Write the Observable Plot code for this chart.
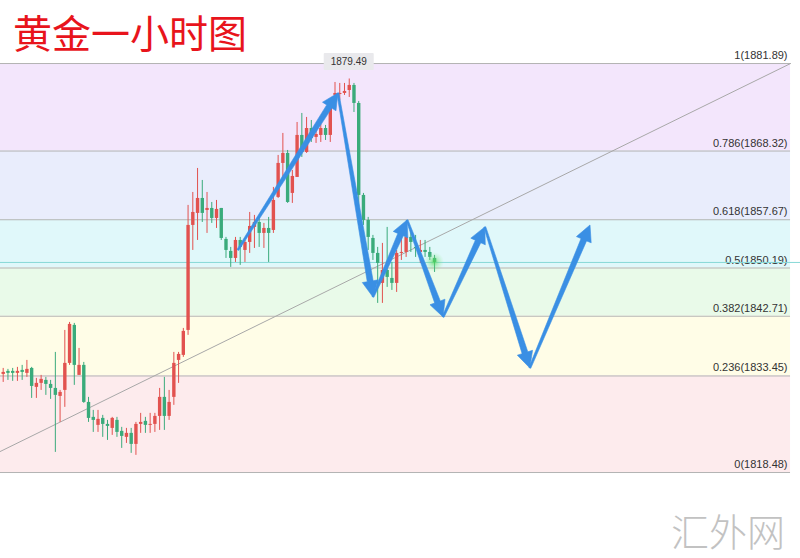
<!DOCTYPE html>
<html><head><meta charset="utf-8">
<script src="https://cdn.jsdelivr.net/npm/d3@7"></script>
<script src="https://cdn.jsdelivr.net/npm/@observablehq/plot@0.6"></script>
<style>
html,body{margin:0;padding:0;background:#fff;}
#wrap{position:relative;width:800px;height:558px;overflow:hidden;}
#chart{position:absolute;left:0;top:0;}
#title{position:absolute;left:13px;top:12px;font-family:"Noto Sans CJK SC";font-size:39px;line-height:39px;color:#e8141c;white-space:nowrap;}
#wm{position:absolute;left:671px;top:511px;font-family:"Noto Sans CJK SC";font-weight:300;font-size:38px;line-height:38px;color:#c2c2c2;white-space:nowrap;}
</style></head><body>
<div id="wrap"><div id="chart"></div><div id="title">黄金一小时图</div><div id="wm">汇外网</div></div>
<script>
// Fibonacci retracement levels
const fibRatios = [1, 0.786, 0.618, 0.5, 0.382, 0.236, 0];
const fibPrices = [1881.89, 1868.32, 1857.67, 1850.19, 1842.71, 1833.45, 1818.48];
const bandColors = ["#f3e6fc", "#e9edfc", "#e0f8fa", "#e9fae9", "#fffde7", "#fdebed"];

// Hourly candles (OHLC)
const opens = [1833.69,1834.16,1834.16,1833.85,1834.31,1833.85,1834.62,1831.68,1832.30,1832.76,
1832.14,1831.52,1830.28,1831.21,1835.40,1841.29,1833.54,1835.09,1829.35,1827.03,
1825.79,1826.87,1825.94,1825.32,1826.56,1824.86,1823.93,1824.55,1822.84,1825.94,
1826.41,1825.79,1825.94,1827.18,1830.13,1827.18,1830.13,1835.86,1836.64,1840.51,
1856.79,1858.65,1860.97,1859.11,1859.42,1857.87,1859.42,1854.62,1852.76,1851.67,
1854.46,1852.91,1854.15,1856.48,1857.25,1855.55,1856.32,1856.01,1861.13,1866.40,
1867.95,1861.75,1864.23,1870.74,1868.10,1871.82,1870.43,1870.74,1871.82,1870.74,
1876.94,1877.09,1877.25,1877.71,1878.49,1875.70,1861.44,1857.56,1854.77,1852.45,
1847.80,1849.81,1848.57,1847.80,1852.45,1852.60,1854.93,1853.38,1852.60,1852.91,
1852.60,1851.67];
const highs = [1834.62,1834.47,1834.62,1834.78,1835.09,1835.86,1834.78,1833.07,1833.54,1833.23,
1832.76,1837.10,1831.21,1840.51,1841.75,1841.60,1837.72,1835.55,1830.13,1828.11,
1828.11,1827.34,1826.56,1827.03,1827.03,1825.48,1825.32,1825.32,1826.25,1827.65,
1827.03,1827.65,1827.65,1831.52,1833.23,1831.21,1837.10,1837.10,1840.82,1859.89,
1861.90,1865.62,1863.76,1861.90,1860.35,1860.66,1859.42,1854.93,1853.38,1854.93,
1854.93,1854.46,1858.80,1858.34,1858.03,1857.10,1858.03,1862.68,1867.64,1871.05,
1868.41,1865.31,1872.75,1874.15,1873.53,1873.06,1871.98,1872.60,1872.29,1875.70,
1878.95,1878.80,1878.80,1879.49,1878.80,1876.01,1861.75,1858.03,1855.24,1853.38,
1854.00,1856.48,1851.05,1852.91,1854.93,1855.55,1856.01,1855.24,1854.46,1854.46,
1853.38,1852.14];
const lows = [1832.45,1832.76,1832.61,1832.61,1832.76,1833.23,1829.97,1829.97,1831.21,1830.44,
1829.82,1821.60,1826.25,1828.58,1835.09,1831.99,1833.54,1829.20,1826.25,1824.70,
1824.70,1823.93,1823.46,1824.24,1823.93,1822.22,1822.99,1821.45,1821.14,1824.55,
1824.55,1824.55,1824.70,1825.01,1825.01,1826.56,1828.89,1832.30,1836.33,1839.74,
1852.91,1854.46,1857.25,1855.55,1857.10,1856.32,1854.46,1851.67,1850.28,1851.05,
1850.59,1851.05,1852.45,1853.22,1853.38,1853.22,1851.05,1855.55,1860.97,1863.76,
1860.20,1860.20,1864.23,1867.33,1867.95,1869.65,1869.50,1869.65,1869.96,1869.65,
1876.63,1876.16,1876.94,1876.63,1874.30,1857.10,1856.79,1852.91,1851.36,1844.70,
1844.70,1847.18,1846.71,1846.40,1851.36,1851.83,1852.60,1851.83,1850.90,1851.83,
1851.36,1849.50];
const closes = [1834.00,1833.85,1833.85,1834.16,1834.00,1834.47,1831.83,1832.30,1832.92,1832.14,
1831.52,1830.44,1830.90,1835.40,1841.44,1835.09,1835.09,1829.35,1826.87,1826.56,
1826.72,1825.94,1825.63,1826.87,1824.70,1824.08,1824.55,1822.84,1825.94,1826.25,
1825.79,1825.94,1827.18,1830.13,1827.18,1829.35,1835.40,1836.79,1840.36,1856.79,
1858.80,1860.97,1858.65,1859.42,1857.87,1859.27,1854.77,1852.91,1851.67,1854.46,
1853.38,1854.15,1856.63,1857.25,1855.55,1856.32,1855.55,1860.66,1866.40,1867.95,
1860.35,1864.38,1870.74,1868.10,1871.82,1870.27,1870.89,1871.82,1870.74,1875.39,
1877.25,1877.25,1877.56,1878.49,1875.70,1861.44,1857.56,1854.93,1852.45,1850.90,
1849.81,1848.73,1847.80,1852.45,1852.60,1854.93,1854.15,1853.22,1852.91,1852.60,
1851.83,1851.05];

// current price line and peak tag
const lastPrice = 1851.05;
const peakLabel = "1879.49";

// hand-drawn trend line (bar index, price)
const trendIdx = [-0.6, 166.1];
const trendPrice = [1821.75, 1881.89];

// forecast zig-zag path drawn with arrows (bar index, price)
const pathIdx = [49.6, 70.7, 78.1, 85.3, 92.9, 101.7, 111.2, 123.9];
const pathPrice = [1852.9, 1877.24, 1845.62, 1857.55, 1842.52, 1856.47, 1834.61, 1856.78];

// extent of the fib drawing (bar index)
const fibStart = -0.6, fibEnd = 166.1;

const candles = opens.map((o, i) => ({i, o, h: highs[i], l: lows[i], c: closes[i]}));
const levels = fibRatios.map((r, k) => ({r, p: fibPrices[k], label: `${r}(${fibPrices[k].toFixed(2)})`}));
const bands = bandColors.map((col, k) => ({hi: fibPrices[k], lo: fibPrices[k + 1], col}));
const trend = trendIdx.map((x, k) => ({x, p: trendPrice[k]}));
const UP = "#e2524f", DOWN = "#3aab7b";
const col = d => d.c >= d.o ? UP : DOWN;

const peak = candles.reduce((a, b) => b.h > a.h ? b : a);

function arrowsMark(index, scales) {
  const {x, y} = scales;
  const g = d3.create("svg:g");
  for (let k = 0; k < pathIdx.length - 1; k++) {
    const x0 = x(pathIdx[k]), y0 = y(pathPrice[k]);
    const x1 = x(pathIdx[k + 1]), y1 = y(pathPrice[k + 1]);
    const dx = x1 - x0, dy = y1 - y0, len = Math.hypot(dx, dy);
    const ux = dx / len, uy = dy / len, nx = -uy, ny = ux;
    const hl = 16, hw = 8, w0 = 1.0, w1 = 3.0;
    const bx = x1 - ux * hl, by = y1 - uy * hl;
    const pts = [
      [x0 + nx * w0, y0 + ny * w0], [bx + nx * w1, by + ny * w1], [bx + nx * hw, by + ny * hw],
      [x1, y1], [bx - nx * hw, by - ny * hw], [bx - nx * w1, by - ny * w1], [x0 - nx * w0, y0 - ny * w0]
    ];
    g.append("path").attr("d", "M" + pts.map(p => p.join(",")).join("L") + "Z")
      .attr("fill", "#3a8fe4").attr("stroke", "#3a8fe4").attr("stroke-width", 0.6).attr("stroke-linejoin", "round");
  }
  return g.node();
}

function extrasMark(index, scales) {
  const {x, y} = scales;
  const g = d3.create("svg:g");
  // glow on last candle
  const last = candles[candles.length - 1];
  const defs = g.append("defs");
  const rg = defs.append("radialGradient").attr("id", "glow");
  rg.append("stop").attr("offset", "0%").attr("stop-color", "#4ed64e").attr("stop-opacity", 0.75);
  rg.append("stop").attr("offset", "45%").attr("stop-color", "#6fe06f").attr("stop-opacity", 0.35);
  rg.append("stop").attr("offset", "100%").attr("stop-color", "#9bea9b").attr("stop-opacity", 0);
  g.append("circle").attr("cx", x(last.i)).attr("cy", y(last.c)).attr("r", 10).attr("fill", "url(#glow)");
  // peak tag
  const cx = x(peak.i), cy = y(fibPrices[0]) - 1.5;
  g.append("rect").attr("x", cx - 25).attr("y", cy - 8.5).attr("width", 50).attr("height", 17)
    .attr("fill", "#e9e9ec").attr("rx", 1);
  g.append("text").attr("x", cx).attr("y", cy).attr("dy", "0.35em").attr("text-anchor", "middle")
    .attr("font-family", "Liberation Sans, Arial, sans-serif").attr("font-size", 10).attr("fill", "#333")
    .text(peakLabel);
  return g.node();
}

const chart = Plot.plot({
  width: 800, height: 558,
  margin: 0,
  style: {background: "transparent", overflow: "visible"},
  x: {domain: [-0.57, 168.2], axis: null},
  y: {domain: [1805.15, 1891.66], axis: null},
  marks: [
    Plot.rect(bands, {x1: fibStart, x2: fibEnd, y1: "lo", y2: "hi", fill: "col"}),
    Plot.ruleY(levels, {y: "p", x1: fibStart, x2: fibEnd, stroke: "#b3b3b3", strokeWidth: 1}),
    Plot.text(levels, {x: fibEnd, y: "p", text: "label", textAnchor: "end", dx: -3, dy: -8,
      fontSize: 11, fill: "#333", fontFamily: "Liberation Sans, Arial, sans-serif"}),
    Plot.ruleY([lastPrice], {stroke: "#86d8d6", strokeWidth: 1}),
    Plot.line(trend, {x: "x", y: "p", stroke: "#a8a8a8", strokeWidth: 1}),
    Plot.ruleX(candles, {x: "i", y1: "l", y2: "h", stroke: col, strokeWidth: 1}),
    Plot.ruleX(candles, {x: "i", y1: "o", y2: "c", stroke: col, strokeWidth: 3.4}),
    extrasMark,
    arrowsMark
  ]
});
document.getElementById("chart").append(chart);
</script>
</body></html>
